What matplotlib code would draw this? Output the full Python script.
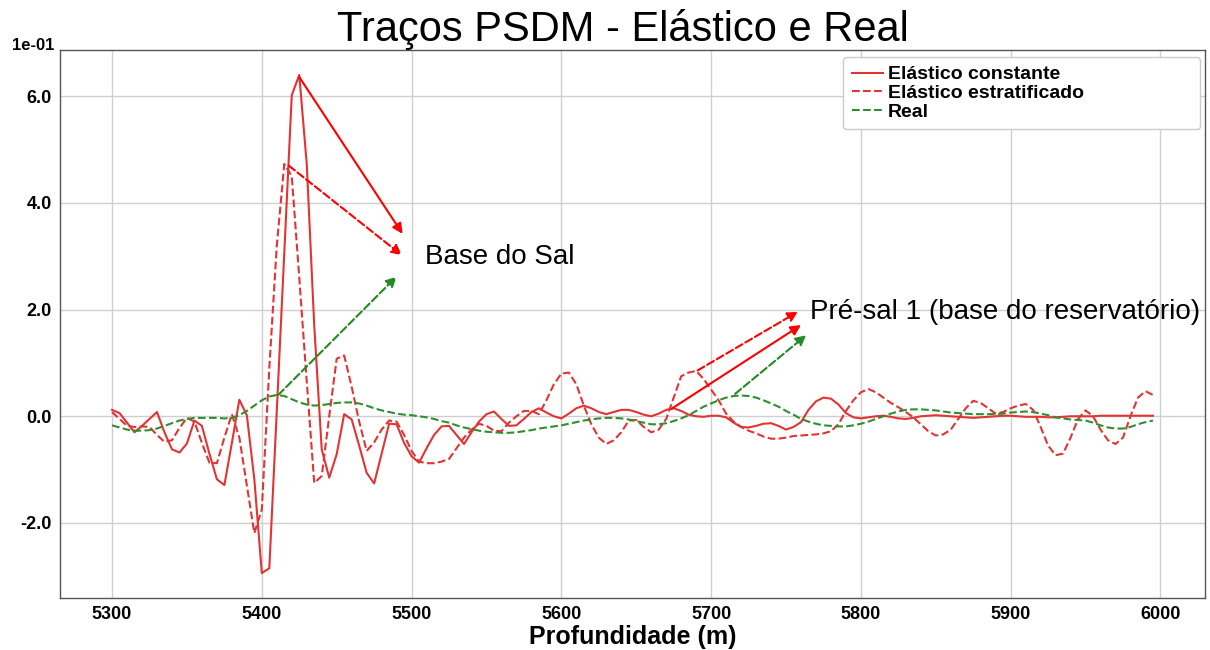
import matplotlib
matplotlib.use("Agg")
import matplotlib.pyplot as plt
import numpy as np

# ---------------- data (amplitudes in units of 1e-01) ----------------
depth_start = 5300
depth_step = 5
elastico_constante = [
    0.12, 0.06, -0.12, -0.30, -0.18, -0.05, 0.08, -0.30, -0.62, -0.68,
    -0.51, -0.08, -0.18, -0.70, -1.18, -1.29, -0.50, 0.31, 0.02, -1.18,
    -2.94, -2.85, 0.10, 3.06, 6.02, 6.40, 4.73, 1.70, -0.62, -1.15,
    -0.71, 0.04, -0.06, -0.55, -1.06, -1.26, -0.70, -0.14, -0.15, -0.50,
    -0.75, -0.87, -0.60, -0.35, -0.19, -0.18, -0.35, -0.52, -0.30, -0.10,
    0.04, 0.09, -0.05, -0.18, -0.17, -0.05, 0.08, 0.15, 0.07, 0.00,
    -0.04, 0.05, 0.15, 0.20, 0.15, 0.08, 0.04, 0.08, 0.12, 0.12,
    0.08, 0.03, 0.00, 0.05, 0.12, 0.15, 0.10, 0.03, 0.00, -0.01,
    0.01, 0.01, -0.02, -0.12, -0.20, -0.21, -0.18, -0.14, -0.13, -0.18,
    -0.25, -0.20, -0.11, 0.12, 0.28, 0.35, 0.33, 0.22, 0.06, -0.02,
    -0.04, -0.02, 0.00, 0.01, -0.01, -0.04, -0.05, -0.03, 0.00, 0.01,
    0.02, 0.01, 0.00, -0.01, -0.02, -0.03, -0.02, -0.01, 0.00, 0.01,
    0.01, 0.00, -0.01, -0.01, -0.01, -0.02, -0.02, -0.01, 0.00, 0.00,
    0.00, 0.00, 0.01, 0.01, 0.01, 0.01, 0.01, 0.01, 0.01, 0.01,
]
elastico_estratificado = [
    0.08, -0.05, -0.18, -0.20, -0.19, -0.20, -0.35, -0.48, -0.45, -0.22,
    -0.03, -0.10, -0.50, -0.87, -0.88, -0.40, 0.04, -0.40, -1.30, -2.19,
    -1.75, 0.90, 3.20, 4.73, 4.50, 2.60, 0.65, -1.25, -1.12, 0.00,
    1.08, 1.14, 0.55, -0.10, -0.65, -0.49, -0.25, -0.08, -0.10, -0.35,
    -0.65, -0.85, -0.88, -0.88, -0.85, -0.80, -0.60, -0.40, -0.25, -0.14,
    -0.18, -0.27, -0.28, -0.12, 0.00, 0.10, 0.10, 0.04, 0.30, 0.60,
    0.80, 0.82, 0.60, 0.20, -0.15, -0.40, -0.52, -0.45, -0.30, -0.08,
    -0.07, -0.20, -0.30, -0.25, -0.05, 0.35, 0.75, 0.82, 0.85, 0.70,
    0.50, 0.30, 0.05, -0.10, -0.20, -0.27, -0.32, -0.38, -0.42, -0.42,
    -0.40, -0.37, -0.36, -0.35, -0.34, -0.32, -0.28, -0.15, 0.10, 0.30,
    0.45, 0.51, 0.45, 0.35, 0.25, 0.17, 0.08, -0.02, -0.15, -0.28,
    -0.36, -0.34, -0.25, -0.05, 0.15, 0.29, 0.25, 0.15, 0.05, 0.08,
    0.15, 0.20, 0.23, 0.12, -0.20, -0.55, -0.73, -0.70, -0.40, -0.05,
    0.11, 0.00, -0.25, -0.45, -0.52, -0.40, 0.00, 0.35, 0.47, 0.40,
]
real = [
    -0.17, -0.21, -0.25, -0.27, -0.27, -0.26, -0.23, -0.18, -0.13, -0.08,
    -0.05, -0.03, -0.03, -0.03, -0.03, -0.04, -0.03, 0.02, 0.10, 0.20,
    0.30, 0.37, 0.40, 0.38, 0.32, 0.26, 0.22, 0.20, 0.21, 0.23,
    0.25, 0.26, 0.26, 0.24, 0.20, 0.15, 0.11, 0.08, 0.05, 0.03,
    0.02, 0.00, -0.02, -0.05, -0.09, -0.12, -0.17, -0.21, -0.24, -0.27,
    -0.29, -0.30, -0.31, -0.31, -0.30, -0.28, -0.26, -0.23, -0.21, -0.19,
    -0.17, -0.14, -0.11, -0.08, -0.06, -0.04, -0.03, -0.03, -0.04, -0.06,
    -0.09, -0.12, -0.15, -0.15, -0.13, -0.09, -0.04, 0.02, 0.10, 0.18,
    0.24, 0.30, 0.35, 0.38, 0.39, 0.38, 0.35, 0.30, 0.24, 0.18,
    0.10, 0.03, -0.05, -0.10, -0.14, -0.17, -0.18, -0.19, -0.19, -0.17,
    -0.14, -0.10, -0.05, 0.00, 0.05, 0.09, 0.12, 0.13, 0.13, 0.12,
    0.11, 0.09, 0.07, 0.06, 0.05, 0.04, 0.04, 0.04, 0.04, 0.05,
    0.07, 0.08, 0.09, 0.08, 0.05, 0.02, -0.02, -0.04, -0.06, -0.07,
    -0.08, -0.12, -0.17, -0.21, -0.23, -0.23, -0.20, -0.15, -0.11, -0.08,
]
series_labels = ["Elástico constante", "Elástico estratificado", "Real"]
x_ticks = [5300, 5400, 5500, 5600, 5700, 5800, 5900, 6000]
y_ticks = [-2.0, 0.0, 2.0, 4.0, 6.0]

depth = depth_start + depth_step * np.arange(len(elastico_constante))

# ---------------- figure ----------------
plt.rcParams['font.family'] = ['Liberation Sans', 'DejaVu Sans']
fig = plt.figure(figsize=(12.1, 6.5), dpi=100)
ax = fig.add_axes([60 / 1210, 52 / 650, 1145 / 1210, 548 / 650])

red_curve = '#e23434'
green_curve = '#2f8f2f'
ax.plot(depth, elastico_constante, '-', color=red_curve, lw=1.5, label=series_labels[0])
ax.plot(depth, elastico_estratificado, '--', color=red_curve, lw=1.5, label=series_labels[1])
ax.plot(depth, real, '--', color=green_curve, lw=1.5, label=series_labels[2])

ax.set_xticks(x_ticks)
ax.set_yticks(y_ticks)
ax.set_xticklabels([str(v) for v in x_ticks], fontweight='bold', fontsize=13)
ax.set_yticklabels(['%.1f' % v for v in y_ticks], fontweight='bold', fontsize=13)
ax.tick_params(length=0, pad=6)
ax.grid(True, color='#cfcfcf', lw=1)
ax.set_axisbelow(True)
for sp in ax.spines.values():
    sp.set_color('#555555')
    sp.set_linewidth(1)

ax.set_xlabel('Profundidade (m)', fontweight='bold', fontsize=18, labelpad=1)
ax.set_title('Traços PSDM - Elástico e Real', fontsize=30, pad=3, x=0.492)
fig.text(54 / 1210, 1 - 45 / 650, '1e-01', ha='right', va='center',
         fontweight='bold', fontsize=12)

leg = ax.legend(loc='upper left', bbox_to_anchor=(0.684, 0.0, 0.3116, 0.987),
                mode='expand', borderaxespad=0,
                prop={'weight': 'bold', 'size': 14}, labelspacing=0.05,
                handlelength=1.6, handletextpad=0.25, borderpad=0.45,
                fancybox=True, framealpha=1, edgecolor='#cccccc')

# ---------------- annotations ----------------
def arrow(tail, head, color, ls):
    ax.annotate('', xy=head, xytext=tail,
                arrowprops=dict(arrowstyle='-|>', color=color, lw=1.5,
                                linestyle=ls, mutation_scale=15,
                                shrinkA=0, shrinkB=0))

arrow((5425, 6.36), (5494, 3.42), 'red', '-')
arrow((5418, 4.70), (5493.5, 3.02), 'red', '--')
arrow((5411, 0.40), (5490, 2.62), '#228b22', '--')
ax.text(5509, 2.98, 'Base do Sal', fontsize=20, ha='left', va='center')

arrow((5691, 0.86), (5758, 1.96), 'red', '--')
arrow((5673.5, 0.14), (5760, 1.71), 'red', '-')
arrow((5716, 0.42), (5763.5, 1.52), '#228b22', '--')
ax.text(5766, 1.96, 'Pré-sal 1 (base do reservatório)', fontsize=20,
        ha='left', va='center')

fig.savefig('out.png', dpi=100)
